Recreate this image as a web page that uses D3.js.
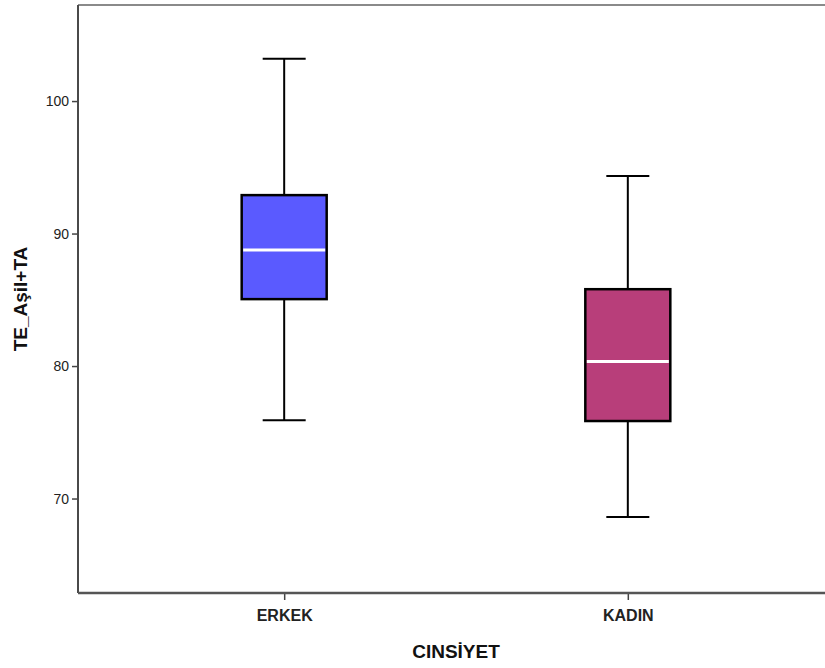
<!DOCTYPE html>
<html>
<head>
<meta charset="utf-8">
<script src="https://cdn.jsdelivr.net/npm/d3@7"></script>
<style>
  body { margin: 0; background: #fff; }
  svg { font-family: Arial, "Liberation Sans", sans-serif; }
</style>
</head>
<body>
<div id="chart"></div>
<script>
// data
var groups = ["ERKEK", "KADIN"];
var whiskerLow = [75.9, 68.6];
var q1 = [85.05, 75.85];
var median = [88.75, 80.35];
var q3 = [92.9, 85.8];
var whiskerHigh = [103.2, 94.35];
var boxColors = ["#5a5aff", "#b83e7a"];
var yTicks = [70, 80, 90, 100];

var svgWidth = 825;
var svgHeight = 668;

var margin = { top: 5, left: 78, bottom: 75 };
var plotRight = 834; // plot continues past the window edge
var height = svgHeight - margin.top - margin.bottom;

var svg = d3.select("#chart")
  .append("svg")
  .attr("width", svgWidth)
  .attr("height", svgHeight);

var chartGroup = svg.append("g")
  .attr("transform", `translate(${margin.left}, ${margin.top})`);

var width = plotRight - margin.left;

var xScale = d3.scalePoint()
  .domain(groups)
  .range([0, width])
  .padding(0.6);

var yScale = d3.scaleLinear()
  .domain([62.87, 107.25])
  .range([height, 0]);

var boxWidth = 85;
var capWidth = 43;

// frame: top line lighter, left and bottom darker
chartGroup.append("line")
  .attr("x1", 0).attr("x2", width)
  .attr("y1", 0).attr("y2", 0)
  .attr("stroke", "#8a8a8a").attr("stroke-width", 2);

// y axis
var leftAxis = d3.axisLeft(yScale).tickValues(yTicks).tickSize(6).tickPadding(3);
var yAxis = chartGroup.append("g").call(leftAxis);
yAxis.select(".domain").remove();
yAxis.selectAll(".tick line").attr("stroke", "#444").attr("stroke-width", 1.5);
yAxis.selectAll(".tick text").attr("fill", "#222").style("font-size", "14px");

// x axis
var bottomAxis = d3.axisBottom(xScale).tickSize(7).tickPadding(10);
var xAxis = chartGroup.append("g")
  .attr("transform", `translate(0, ${height})`)
  .call(bottomAxis);
xAxis.select(".domain").remove();
xAxis.selectAll(".tick line").attr("stroke", "#444").attr("stroke-width", 1.5);
xAxis.selectAll(".tick text")
  .attr("fill", "#222")
  .style("font-size", "16px")
  .style("font-weight", "bold");

chartGroup.append("line")
  .attr("x1", 0).attr("x2", 0)
  .attr("y1", 0).attr("y2", height)
  .attr("stroke", "#4a4a4a").attr("stroke-width", 2);
chartGroup.append("line")
  .attr("x1", 0).attr("x2", width)
  .attr("y1", height).attr("y2", height)
  .attr("stroke", "#555").attr("stroke-width", 2.5);

// boxes
var rows = groups.map(function(g, i) {
  return { name: g, lo: whiskerLow[i], q1: q1[i], med: median[i], q3: q3[i], hi: whiskerHigh[i], color: boxColors[i] };
});

var boxG = chartGroup.selectAll(".box")
  .data(rows)
  .enter()
  .append("g")
  .attr("class", "box")
  .attr("transform", d => `translate(${xScale(d.name)}, 0)`);

// whiskers
boxG.append("line")
  .attr("x1", 0).attr("x2", 0)
  .attr("y1", d => yScale(d.hi)).attr("y2", d => yScale(d.q3))
  .attr("stroke", "#000").attr("stroke-width", 2);
boxG.append("line")
  .attr("x1", 0).attr("x2", 0)
  .attr("y1", d => yScale(d.q1)).attr("y2", d => yScale(d.lo))
  .attr("stroke", "#000").attr("stroke-width", 2);
boxG.append("line")
  .attr("x1", -capWidth / 2).attr("x2", capWidth / 2)
  .attr("y1", d => yScale(d.hi)).attr("y2", d => yScale(d.hi))
  .attr("stroke", "#000").attr("stroke-width", 2);
boxG.append("line")
  .attr("x1", -capWidth / 2).attr("x2", capWidth / 2)
  .attr("y1", d => yScale(d.lo)).attr("y2", d => yScale(d.lo))
  .attr("stroke", "#000").attr("stroke-width", 2);

boxG.append("rect")
  .attr("x", -boxWidth / 2)
  .attr("width", boxWidth)
  .attr("y", d => yScale(d.q3))
  .attr("height", d => yScale(d.q1) - yScale(d.q3))
  .attr("fill", d => d.color)
  .attr("stroke", "#000")
  .attr("stroke-width", 2.5);

boxG.append("line")
  .attr("x1", -boxWidth / 2 + 1.5).attr("x2", boxWidth / 2 - 1.5)
  .attr("y1", d => yScale(d.med)).attr("y2", d => yScale(d.med))
  .attr("stroke", "#fff").attr("stroke-width", 3);

// axis titles
svg.append("text")
  .attr("x", 456)
  .attr("y", 658)
  .attr("text-anchor", "middle")
  .style("font-size", "19px")
  .style("font-weight", "bold")
  .attr("fill", "#111")
  .text("CINSİYET");

svg.append("text")
  .attr("transform", "rotate(-90)")
  .attr("x", -299)
  .attr("y", 27)
  .attr("text-anchor", "middle")
  .style("font-size", "19px")
  .style("font-weight", "bold")
  .attr("fill", "#111")
  .text("TE_Aşil+TA");
</script>
</body>
</html>
